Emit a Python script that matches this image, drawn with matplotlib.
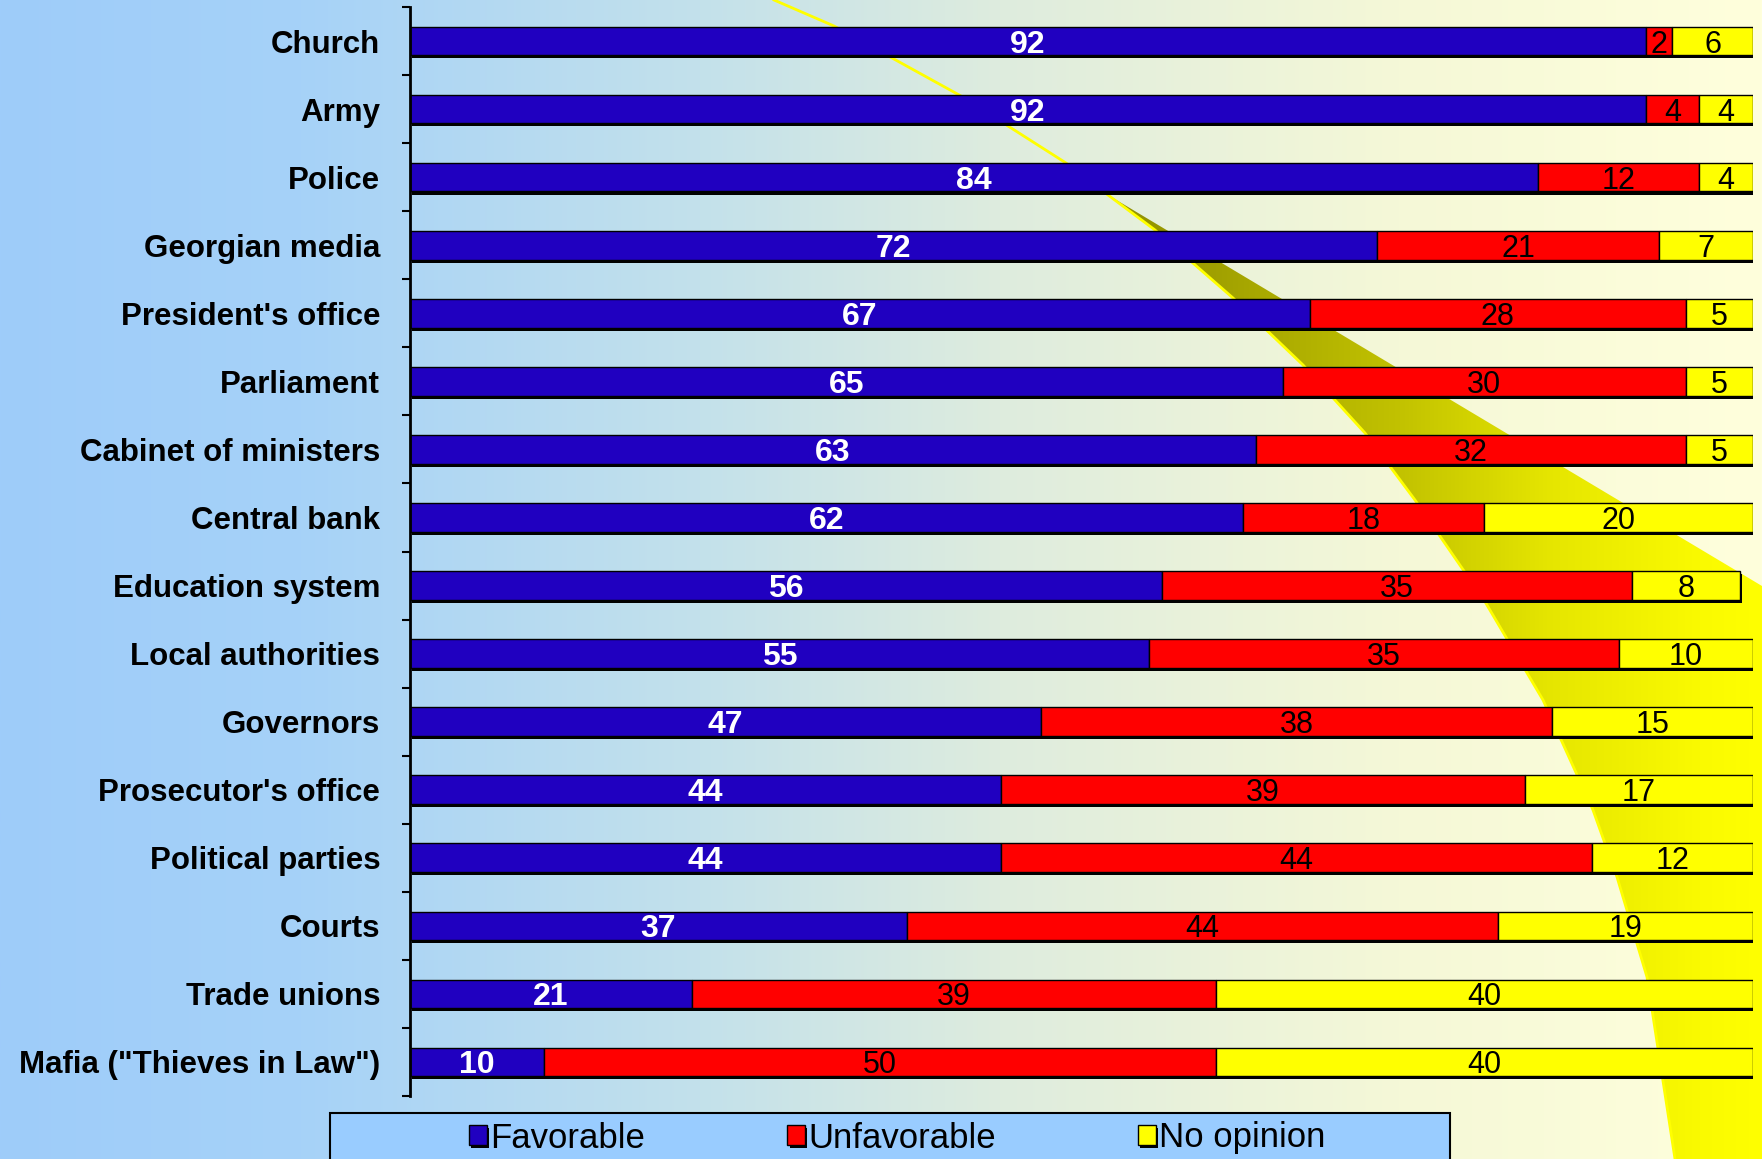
import numpy as np
import matplotlib.pyplot as plt
import matplotlib.patheffects as pe
from matplotlib.patches import Polygon, Rectangle

plt.rcParams['font.family'] = ['Liberation Sans', 'DejaVu Sans']

categories = ["Church", "Army", "Police", "Georgian media", "President's office",
              "Parliament", "Cabinet of ministers", "Central bank", "Education system",
              "Local authorities", "Governors", "Prosecutor's office", "Political parties",
              "Courts", "Trade unions", 'Mafia ("Thieves in Law")']
favorable = [92, 92, 84, 72, 67, 65, 63, 62, 56, 55, 47, 44, 44, 37, 21, 10]
unfavorable = [2, 4, 12, 21, 28, 30, 32, 18, 35, 35, 38, 39, 44, 44, 39, 50]
no_opinion = [6, 4, 4, 7, 5, 5, 5, 20, 8, 10, 15, 17, 12, 19, 40, 40]
series_names = ["Favorable", "Unfavorable", "No opinion"]
series_colors = ["#2000C0", "#FF0000", "#FFFF00"]
text_colors = ["white", "black", "black"]

W, H = 1762, 1159
fig = plt.figure(figsize=(W / 100, H / 100), dpi=100)

# background: blue -> pale yellow gradient, plus the yellow swoosh
bg = fig.add_axes([0, 0, 1, 1])
xs = np.linspace(0, W, 800)
sx = [0, 300, 700, 1000, 1400, 1762]
r = np.interp(xs, sx, [158, 166, 195, 222, 245, 255])
g = np.interp(xs, sx, [204, 210, 225, 236, 248, 255])
b = np.interp(xs, sx, [250, 248, 235, 222, 215, 220])
bg.imshow(np.dstack([r, g, b]) / 255, extent=[0, W, H, 0], aspect='auto')

edge_x = [774, 834, 961, 1066, 1108, 1155, 1233, 1303, 1365, 1415, 1484, 1543, 1593, 1617, 1647, 1675]
edge_y = [0, 26, 96, 163, 195, 230, 298, 365, 433, 500, 600, 700, 810, 877, 977, 1159]
band = list(zip(edge_x[4:], edge_y[4:])) + [(W, H), (W, 586)]
poly = Polygon(band, closed=True, facecolor='none', edgecolor='none', transform=bg.transData)
bg.add_patch(poly)
m = np.interp(xs, [1100, 1400, 1550, 1700, 1762], [0.55, 0.76, 0.9, 0.98, 1.0])
band_img = np.dstack([m, m, np.zeros_like(m)])
im = bg.imshow(band_img, extent=[0, W, H, 0], aspect='auto')
im.set_clip_path(poly)
bg.plot(edge_x, edge_y, color='#FFFF00', lw=2)
bg.set_xlim(0, W)
bg.set_ylim(H, 0)
bg.axis('off')

# chart
ax = fig.add_axes([410 / W, 1 - 1096 / H, (1753 - 410) / W, (1096 - 7) / H])
ax.patch.set_alpha(0)
y = np.arange(len(categories))
left = np.zeros(len(categories))
shadow = [pe.SimplePatchShadow(offset=(1.5, -2.2), shadow_rgbFace='black', alpha=1), pe.Normal()]
for vals, name, col, tc in zip([favorable, unfavorable, no_opinion], series_names,
                               series_colors, text_colors):
    bars = ax.barh(y, vals, left=left, height=0.42, color=col, edgecolor='black',
                   linewidth=1, label=name)
    for bar in bars:
        bar.set_path_effects(shadow)
    if tc == 'white':
        txts = ax.bar_label(bars, labels=[str(v) for v in vals], label_type='center',
                            color=tc, fontsize=23, fontweight='bold')
    else:
        txts = ax.bar_label(bars, labels=[str(v) for v in vals], label_type='center',
                            color=tc, fontsize=22)
    for t in txts:
        t.set_verticalalignment('center_baseline')
    left += np.array(vals)

ax.set_xlim(0, 100)
ax.set_ylim(15.5, -0.5)
ax.set_yticks(y, categories, fontsize=22.5, fontweight='bold')
ax.set_yticks(np.arange(-0.5, 16, 1), minor=True)
ax.tick_params(axis='y', which='major', length=0, pad=21.5)
ax.tick_params(axis='y', which='minor', length=5.8, width=1.5, direction='out')
ax.xaxis.set_visible(False)
for s in ['top', 'right', 'bottom']:
    ax.spines[s].set_visible(False)
ax.spines['left'].set_linewidth(2)

# legend box at the bottom
fig.add_artist(Rectangle((330 / W, -0.02), (1450 - 330) / W, 0.02 + 1 - 1113 / H,
                         transform=fig.transFigure, facecolor='#99CCFF',
                         edgecolor='black', lw=1.5))
handles, labels = ax.get_legend_handles_labels()
fig.legend(handles, labels, loc='center left', bbox_to_anchor=(452 / W, 1 - 1138 / H),
           ncol=3, frameon=False, fontsize=25, borderpad=0, handlelength=0.5,
           handleheight=0.5, handletextpad=0.1, columnspacing=4.1)

fig.savefig('out.png', dpi=100)
